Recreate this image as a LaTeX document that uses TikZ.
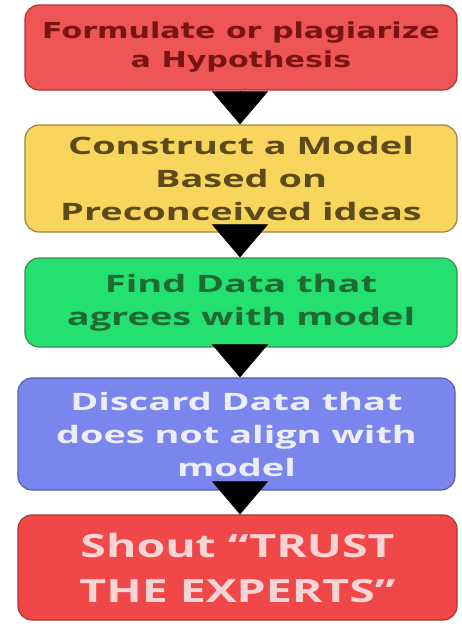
\documentclass[tikz,border=0pt]{standalone}
\usepackage{fontspec}
\setmainfont{Open Sans}
\newfontfamily\verdwide[FakeStretch=1.37]{DejaVu Sans}
\newfontfamily\openwide[FakeStretch=1.58]{Open Sans}
\newfontfamily\openwider[FakeStretch=1.45]{Open Sans}
\usetikzlibrary{arrows.meta}
\definecolor{f1}{HTML}{EE5656}\definecolor{d1}{HTML}{A83434}\definecolor{t1}{HTML}{7A1414}
\definecolor{f2}{HTML}{F8D65E}\definecolor{d2}{HTML}{9A8246}\definecolor{t2}{HTML}{5C4A1A}
\definecolor{f3}{HTML}{24E070}\definecolor{d3}{HTML}{3C8C54}\definecolor{t3}{HTML}{1E6A32}
\definecolor{f4}{HTML}{7A86EE}\definecolor{d4}{HTML}{5060B0}\definecolor{t4}{HTML}{EDEDF4}
\definecolor{f5}{HTML}{F04848}\definecolor{d5}{HTML}{A83434}\definecolor{t5}{HTML}{F8D4D4}
\tikzset{
  flowbox/.style={draw, line width=1.2pt, rounded corners=14pt, align=center, inner sep=0pt},
  midtext/.style={font=\openwide\bfseries\fontsize{24}{33}\selectfont},
  flowarrow/.style={line width=0.5pt, -{Triangle[width=56pt,length=33pt]}},
}
\begin{document}
\begin{tikzpicture}[x=1pt,y=-1pt]
\fill[white] (0,0) rectangle (462,624);
\useasboundingbox (0,0) rectangle (462,624);
\node[flowbox, fill=f1, draw=d1, text=t1, minimum width=432pt, minimum height=85pt,
  font=\verdwide\bfseries\fontsize{22}{29}\selectfont] (b1) at (241,47.5)
  {Formulate or plagiarize\\a Hypothesis};
\node[flowbox, midtext, fill=f2, draw=d2, text=t2, minimum width=432pt, minimum height=107pt] (b2) at (241,178.5)
  {Construct a Model\\Based on\\Preconceived ideas};
\node[flowbox, midtext, fill=f3, draw=d3, text=t3, minimum width=432pt, minimum height=89pt] (b3) at (241,302.5)
  {Find Data that\\agrees with model};
\node[flowbox, midtext, fill=f4, draw=d4, text=t4, minimum width=437pt, minimum height=112pt] (b4) at (236.5,434)
  {Discard Data that\\does not align with\\model};
\node[flowbox, fill=f5, draw=d5, text=t5, minimum width=439pt, minimum height=105pt,
  font=\openwider\bfseries\fontsize{32}{45}\selectfont] (b5) at (237.5,567.5)
  {Shout “TRUST\\THE EXPERTS”};
\draw[flowarrow] (b1.south -| 240,0) -- (b2.north -| 240,0);
\draw[flowarrow] (b2.south -| 240,0) -- (b3.north -| 240,0);
\draw[flowarrow] (b3.south -| 240,0) -- (b4.north -| 240,0);
\draw[flowarrow] (b4.south -| 240,0) -- (b5.north -| 240,0);
\end{tikzpicture}
\end{document}
